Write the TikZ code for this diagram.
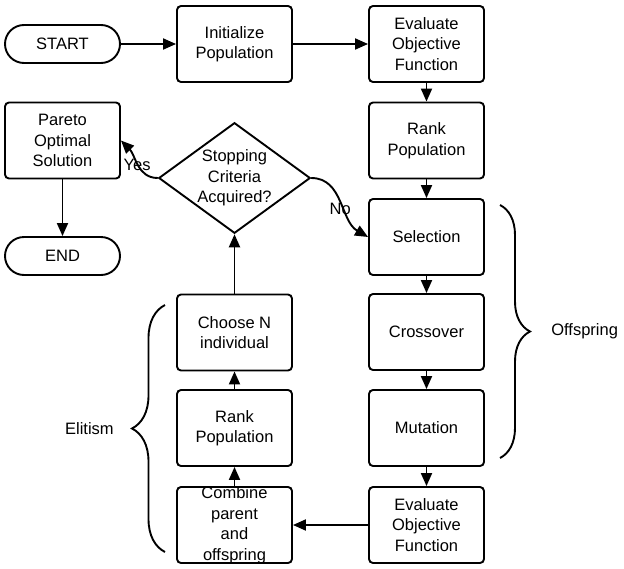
\documentclass[tikz,border=0pt]{standalone}
\usepackage{fontspec}
\setmainfont{Liberation Sans}
\usetikzlibrary{arrows.meta,shapes.geometric,decorations.pathreplacing}
\tikzset{
    block/.style = {draw, rectangle, rounded corners=4pt, align=center,
        inner sep=0pt,
        minimum height=76pt,
        minimum width=115pt},
    term/.style = {draw, rectangle, rounded corners=19pt,
        minimum height=38pt,
        minimum width=115pt},
    decision/.style = {draw, diamond, aspect=1.37, align=center, inner sep=0pt,
        minimum width=151pt,
        minimum height=110pt},
    arrow/.style = {draw, -{Triangle[length=13pt,width=11pt]}},
    brace/.style = {decorate, decoration={brace, amplitude=#1}}
}

\begin{document}
\begin{tikzpicture}[x=1pt, y=1pt, line width=1.9pt, font=\fontsize{16.5}{20.5}\selectfont]
    \useasboundingbox (0,0) rectangle (624,-568);
    % left column
    \node[term] (start) at (62.5,-44) {START};
    \node[block] (pareto) at (62.5,-140.5) {Pareto\\Optimal\\Solution};
    \node[term] (finish) at (62.5,-256) {END};
    % middle column
    \node[block] (init) at (234.5,-44) {Initialize\\Population};
    \node[decision] (crit) at (234.5,-178) {Stopping\\Criteria\\Acquired?};
    \node[block] (choose) at (234.5,-332.5) {Choose N\\individual};
    \node[block] (rankb) at (234.5,-428) {Rank\\Population};
    \node[block, inner ysep=-1pt] (comb) at (234.5,-525) {Combine\\parent\\and\\offspring};
    % right column
    \node[block] (eval) at (426.5,-44) {Evaluate\\Objective\\Function};
    \node[block] (rank) at (426.5,-140.5) {Rank\\Population};
    \node[block] (sel) at (426.5,-237) {Selection};
    \node[block] (cross) at (426.5,-332) {Crossover};
    \node[block] (mut) at (426.5,-428) {Mutation};
    \node[block] (evalb) at (426.5,-525) {Evaluate\\Objective\\Function};

    \draw[arrow] (start) -- (init);
    \draw[arrow] (init) -- (eval);
    \draw[arrow] (eval) -- (rank);
    \draw[arrow] (rank) -- (sel);
    \draw[arrow] (sel) -- (cross);
    \draw[arrow] (cross) -- (mut);
    \draw[arrow] (mut) -- (evalb);
    \draw[arrow] (evalb) -- (comb);
    \draw[arrow] (comb) -- (rankb);
    \draw[arrow] (rankb) -- (choose);
    \draw[arrow] (choose) -- (crit);
    \draw[arrow] (crit.west) to[out=180,in=-45] node[pos=0.5, inner sep=0pt] (yes) {Yes} (pareto.east);
    \draw[arrow] (crit.east) to[out=0,in=150] node[pos=0.55, inner sep=0pt, xshift=-3pt, yshift=-4pt] (no) {No} (sel.west);
    \draw[arrow] (pareto) -- (finish);

    % braces
    \draw[brace=30pt] (500,-205) -- node[right=47pt] (offs) {Offspring} (500,-458);
    \draw[brace=33pt] (165,-552) -- node[left=47pt] (elit) {Elitism} (165,-305);
\end{tikzpicture}
\end{document}
